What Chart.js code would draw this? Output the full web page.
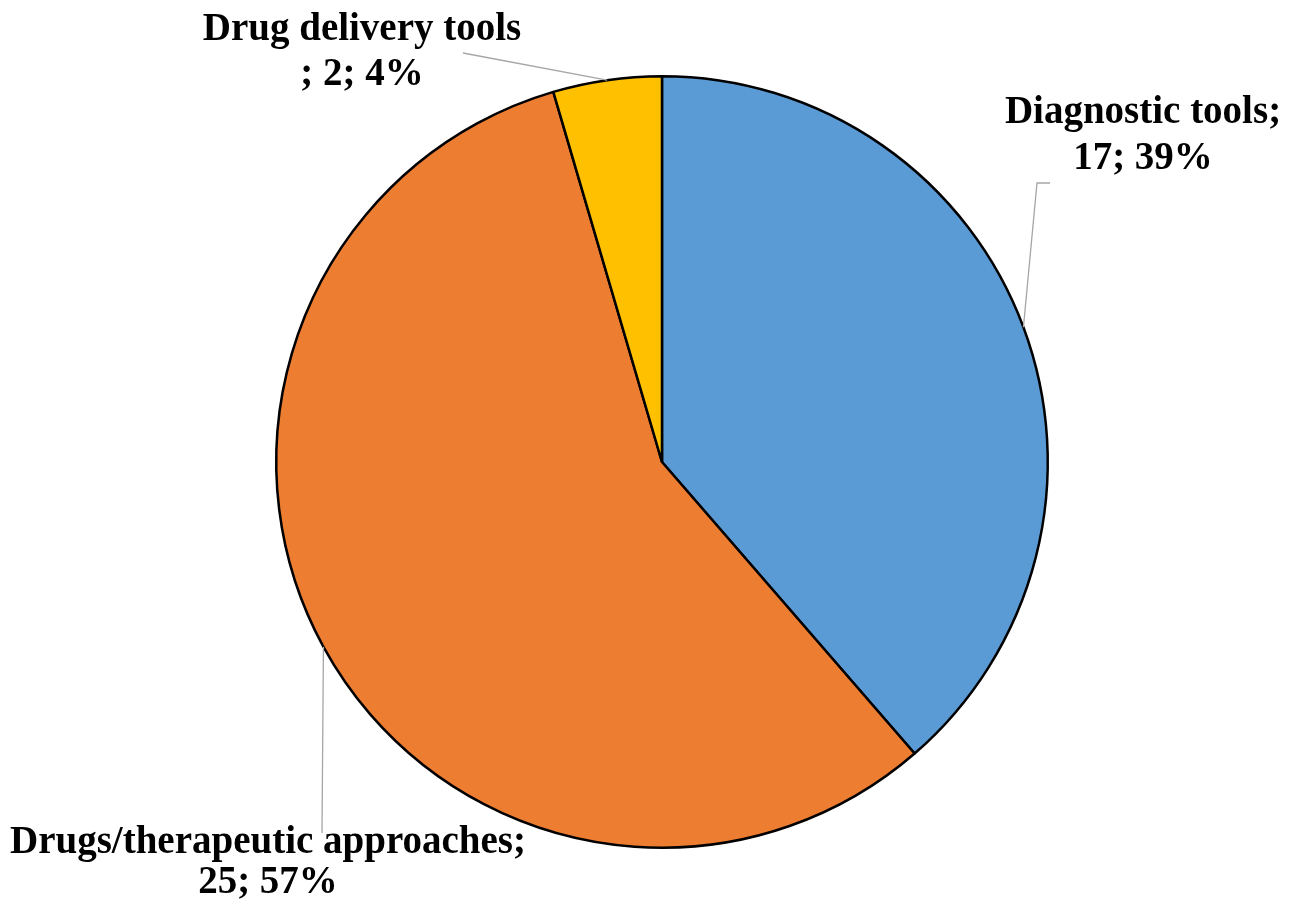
<!DOCTYPE html>
<html>
<head>
<meta charset="utf-8">
<script src="https://cdn.jsdelivr.net/npm/chart.js@4/dist/chart.umd.min.js"></script>
<style>
  html, body { margin: 0; padding: 0; background: #fff; }
  #wrap { width: 1293px; height: 905px; }
</style>
</head>
<body>
<div id="wrap"><canvas id="pieChart"></canvas></div>
<script>
// categories and values
const categories = ['Diagnostic tools', 'Drugs/therapeutic approaches', 'Drug delivery tools'];
const counts = [17, 25, 2];
const percents = [39, 57, 4];
const sliceColors = ['#5B9BD5', '#ED7D31', '#FFC000'];

// label text lines for each slice
const labelLines = [
    ['Diagnostic tools;', counts[0] + '; ' + percents[0] + '%'],
    ['Drugs/therapeutic approaches;', counts[1] + '; ' + percents[1] + '%'],
    ['Drug delivery tools', '; ' + counts[2] + '; ' + percents[2] + '%']
];

// where each label block sits (baseline of first line), line gap, leader bends
const labelSpots = [
    { x: 1143, y: 123, gap: 46, bend: [[1037, 183], [1050, 183]] },
    { x: 268, y: 853, gap: 40, bend: [[322, 833]] },
    { x: 362, y: 40, gap: 45, bend: [[463, 53]] }
];

const leaderLabels = {
    id: 'leaderLabels',
    afterDatasetsDraw(chart) {
        const ctx = chart.ctx;
        const arcs = chart.getDatasetMeta(0).data;
        ctx.save();
        arcs.forEach((arc, i) => {
            const mid = (arc.startAngle + arc.endAngle) / 2;
            const px = arc.x + Math.cos(mid) * arc.outerRadius;
            const py = arc.y + Math.sin(mid) * arc.outerRadius;
            ctx.strokeStyle = '#a6a6a6';
            ctx.lineWidth = 1.3;
            ctx.beginPath();
            ctx.moveTo(px, py);
            labelSpots[i].bend.forEach(p => ctx.lineTo(p[0], p[1]));
            ctx.stroke();

            ctx.fillStyle = '#000';
            ctx.font = 'bold 39px "Liberation Serif", "Times New Roman", serif';
            ctx.textAlign = 'center';
            ctx.textBaseline = 'alphabetic';
            labelLines[i].forEach((t, k) => {
                ctx.fillText(t, labelSpots[i].x, labelSpots[i].y + k * labelSpots[i].gap);
            });
        });
        ctx.restore();
    }
};

const pieCtx = document.getElementById('pieChart').getContext('2d');
new Chart(pieCtx, {
    type: 'pie',
    data: {
        labels: categories,
        datasets: [{
            data: counts,
            backgroundColor: sliceColors,
            borderColor: '#000',
            borderWidth: 2.5
        }]
    },
    options: {
        responsive: true,
        maintainAspectRatio: false,
        animation: false,
        layout: { padding: { left: 31, right: 0, top: 75, bottom: 56 } },
        plugins: {
            legend: { display: false },
            tooltip: { enabled: false }
        }
    },
    plugins: [leaderLabels]
});
</script>
</body>
</html>
